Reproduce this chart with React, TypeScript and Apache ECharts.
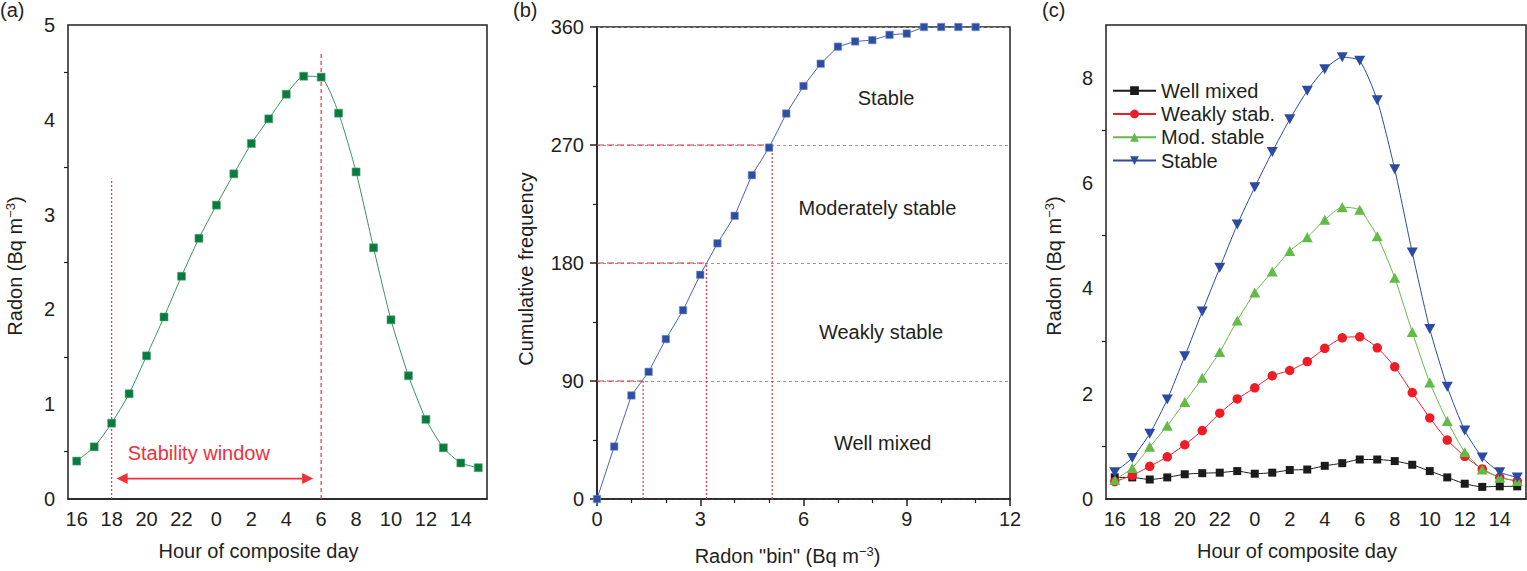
import React, { useEffect, useRef } from 'react';
import * as echarts from 'echarts';

// ---------- data ----------
const hours = ['16', '17', '18', '19', '20', '21', '22', '23', '0', '1', '2', '3', '4', '5', '6', '7', '8', '9', '10', '11', '12', '13', '14', '15'];

const compositeRadon = [0.40, 0.55, 0.80, 1.11, 1.51, 1.92, 2.35, 2.75, 3.10, 3.43, 3.75, 4.01, 4.27, 4.46, 4.45, 4.07, 3.45, 2.65, 1.89, 1.30, 0.84, 0.54, 0.38, 0.33];
const windowHours = ['18', '6'];
const windowLineTops = [3.38, 4.72];

const binValues = [0, 0.5, 1, 1.5, 2, 2.5, 3, 3.5, 4, 4.5, 5, 5.5, 6, 6.5, 7, 7.5, 8, 8.5, 9, 9.5, 10, 10.5, 11];
const cumulativeFreq = [0, 40, 79, 97, 122, 144, 171, 195, 216, 247, 268, 294, 315, 332, 345, 349, 350, 354, 355, 360, 360, 360, 360];

const thresholdFreq = [90, 180, 270];
const thresholdBin = [1.34, 3.18, 5.09];
const classNames = ['Well mixed', 'Weakly stable', 'Moderately stable', 'Stable'];

const wellMixed = [0.41, 0.41, 0.37, 0.41, 0.47, 0.49, 0.50, 0.53, 0.48, 0.50, 0.55, 0.56, 0.63, 0.68, 0.75, 0.75, 0.72, 0.65, 0.53, 0.41, 0.29, 0.23, 0.24, 0.24];
const weaklyStable = [0.33, 0.45, 0.62, 0.80, 1.03, 1.30, 1.63, 1.90, 2.11, 2.34, 2.44, 2.61, 2.86, 3.06, 3.08, 2.87, 2.51, 2.02, 1.54, 1.12, 0.81, 0.57, 0.41, 0.34];
const modStable = [0.36, 0.59, 0.99, 1.39, 1.84, 2.30, 2.79, 3.39, 3.92, 4.32, 4.71, 4.97, 5.30, 5.54, 5.49, 4.99, 4.20, 3.17, 2.21, 1.48, 0.89, 0.56, 0.41, 0.34];
const stable = [0.51, 0.78, 1.24, 1.89, 2.71, 3.56, 4.39, 5.21, 5.92, 6.59, 7.21, 7.75, 8.16, 8.39, 8.32, 7.57, 6.26, 4.68, 3.23, 2.13, 1.30, 0.79, 0.51, 0.41];

const legendNames = ['Well mixed', 'Weakly stab.', 'Mod. stable', 'Stable'];
const yTicksC = [0, 2, 4, 6, 8];
const yMinorC = [1, 3, 5, 7];

// ---------- styles ----------
const FONT = '"Liberation Sans", Arial, Helvetica, sans-serif';
const INK = '#231f20';
const RED = '#f0303a';
const FS = 20;

const supName = (main: string) => `{a|${main}}{s|−3}{a|)}`;
const richName = (pad: number[]) => ({
  color: INK,
  fontFamily: FONT,
  fontSize: FS,
  padding: pad,
  rich: {
    a: { fontSize: FS, fontFamily: FONT, color: INK, lineHeight: 22 },
    s: { fontSize: 13, fontFamily: FONT, color: INK, lineHeight: 13, verticalAlign: 'top' },
  },
});

const axisLineStyle = { lineStyle: { color: INK, width: 1.5 } };

function catX(gridIndex: number) {
  return {
    type: 'category',
    gridIndex,
    data: hours,
    boundaryGap: true,
    axisLine: axisLineStyle,
    axisTick: { alignWithLabel: true, interval: 0, length: 7, lineStyle: { color: INK, width: 1.5 } },
    axisLabel: { interval: 1, color: INK, fontSize: FS, fontFamily: FONT, margin: 10 },
    splitLine: { show: false },
    name: 'Hour of composite day',
    nameLocation: 'middle',
    nameGap: 42,
    nameTextStyle: { color: INK, fontSize: FS, fontFamily: FONT, padding: [0, 38, 0, 0] },
  };
}

const redDashed = { color: RED, type: [7, 3], width: 1.2 };
const redDotted = { color: RED, type: [2, 2], width: 1.2 };
const redShortDash = { color: RED, type: [4, 3], width: 1.2 };

function refLine(xi: number, yi: number, data: any[], lineStyle: any) {
  return {
    name: 'ref',
    type: 'line',
    xAxisIndex: xi,
    yAxisIndex: yi,
    data,
    symbol: 'none',
    silent: true,
    z: 3,
    lineStyle,
    itemStyle: { color: RED },
  };
}

const App: React.FC = () => {
  const ref = useRef<HTMLDivElement>(null);

  useEffect(() => {
    if (!ref.current) return;
    const chart = echarts.init(ref.current, undefined, { renderer: 'svg' });

    const refLinesA = windowHours.map((h, i) =>
      refLine(0, 0, [[h, 0], [h, windowLineTops[i]]], i === 0 ? redDotted : redShortDash)
    );
    const refLinesB: any[] = [];
    thresholdFreq.forEach((f, i) => {
      refLinesB.push(refLine(1, 1, [[0, f], [thresholdBin[i], f]], redDashed));
      refLinesB.push(refLine(1, 1, [[thresholdBin[i], 0], [thresholdBin[i], f]], redDotted));
    });

    const panelLabels = [
      { type: 'text', left: 0, top: 0, style: { text: '(a)', fontSize: FS, fontFamily: FONT, fill: INK } },
      { type: 'text', left: 513, top: 0, style: { text: '(b)', fontSize: FS, fontFamily: FONT, fill: INK } },
      { type: 'text', left: 1042, top: 0, style: { text: '(c)', fontSize: FS, fontFamily: FONT, fill: INK } },
    ];

    const option: any = {
      animation: false,
      backgroundColor: '#ffffff',
      textStyle: { fontFamily: FONT },
      grid: [
        { left: 68, top: 25, width: 419, height: 474, show: true, borderColor: INK, borderWidth: 1.5, backgroundColor: 'transparent' },
        { left: 597, top: 27, width: 413, height: 472, show: true, borderColor: INK, borderWidth: 1.5, backgroundColor: 'transparent' },
        { left: 1106, top: 25, width: 420, height: 474, show: true, borderColor: INK, borderWidth: 1.5, backgroundColor: 'transparent' },
      ],
      legend: {
        data: legendNames,
        orient: 'vertical',
        left: 1112,
        top: 79,
        itemWidth: 43,
        itemHeight: 11,
        itemGap: 0,
        padding: 0,
        selectedMode: false,
        textStyle: { color: INK, fontSize: FS, fontFamily: FONT, lineHeight: 23.3 },
      },
      xAxis: [
        catX(0),
        {
          type: 'value',
          gridIndex: 1,
          min: 0,
          max: 12,
          interval: 3,
          axisLine: axisLineStyle,
          axisTick: { length: 7, lineStyle: { color: INK, width: 1.5 } },
          minorTick: { show: true, splitNumber: 3, length: 4, lineStyle: { color: INK, width: 1.2 } },
          axisLabel: { color: INK, fontSize: FS, fontFamily: FONT, margin: 10 },
          splitLine: { show: false },
          name: supName('Radon "bin" (Bq m'),
          nameLocation: 'middle',
          nameGap: 46,
          nameTextStyle: richName([0, 32, 0, 0]),
        },
        catX(2),
      ],
      yAxis: [
        {
          type: 'value',
          gridIndex: 0,
          min: 0,
          max: 5,
          interval: 1,
          axisLine: axisLineStyle,
          axisTick: { length: 7, lineStyle: { color: INK, width: 1.5 } },
          minorTick: { show: true, splitNumber: 2, length: 4, lineStyle: { color: INK, width: 1.2 } },
          axisLabel: { color: INK, fontSize: FS, fontFamily: FONT, margin: 13 },
          splitLine: { show: false },
          name: supName('Radon (Bq m'),
          nameLocation: 'middle',
          nameGap: 42,
          nameTextStyle: richName([0, 8, 0, 0]),
        },
        {
          type: 'value',
          gridIndex: 1,
          min: 0,
          max: 360,
          interval: 90,
          axisLine: axisLineStyle,
          axisTick: { length: 7, lineStyle: { color: INK, width: 1.5 } },
          minorTick: { show: true, splitNumber: 2, length: 4, lineStyle: { color: INK, width: 1.2 } },
          axisLabel: { color: INK, fontSize: FS, fontFamily: FONT, margin: 13 },
          splitLine: { show: true, lineStyle: { color: '#9a9a9a', type: [3, 3], width: 1 } },
          name: 'Cumulative frequency',
          nameLocation: 'middle',
          nameGap: 61,
          nameTextStyle: { color: INK, fontSize: FS, fontFamily: FONT, padding: [0, 12, 0, 0] },
        },
        {
          type: 'value',
          gridIndex: 2,
          min: 0,
          max: 9,
          interval: 2,
          position: 'left',
          axisLine: axisLineStyle,
          axisTick: { length: 7, customValues: yTicksC, lineStyle: { color: INK, width: 1.5 } },
          axisLabel: { color: INK, fontSize: FS, fontFamily: FONT, margin: 13, customValues: yTicksC },
          splitLine: { show: false },
          name: supName('Radon (Bq m'),
          nameLocation: 'middle',
          nameGap: 41,
          nameTextStyle: richName([0, 8, 0, 0]),
        },
        {
          type: 'value',
          gridIndex: 2,
          min: 0,
          max: 9,
          position: 'left',
          offset: 0,
          axisLine: { show: false },
          axisTick: { show: true, length: 4, customValues: yMinorC, lineStyle: { color: INK, width: 1.2 } },
          axisLabel: { show: false },
          splitLine: { show: false },
        },
      ],
      series: [
        ...refLinesA,
        ...refLinesB,
        {
          name: 'Composite',
          type: 'line',
          xAxisIndex: 0,
          yAxisIndex: 0,
          z: 4,
          data: compositeRadon,
          smooth: 0.2,
          symbol: 'rect',
          symbolSize: 8,
          itemStyle: { color: '#0a7b3e', borderColor: '#5aa878', borderWidth: 0.6 },
          lineStyle: { color: '#3a9160', width: 1 },
        },
        {
          name: 'Cumulative',
          type: 'line',
          xAxisIndex: 1,
          yAxisIndex: 1,
          z: 4,
          data: binValues.map((b, i) => [b, cumulativeFreq[i]]),
          symbol: 'rect',
          symbolSize: 7.5,
          itemStyle: { color: '#2d4fa3', borderColor: '#7f93cc', borderWidth: 0.6 },
          lineStyle: { color: '#4a64b0', width: 1 },
          markPoint: {
            silent: true,
            symbol: 'rect',
            symbolSize: 0,
            label: { show: true, position: 'inside', formatter: '{b}', color: INK, fontSize: FS, fontFamily: FONT },
            data: [
              { name: classNames[0], coord: [8.3, 43] },
              { name: classNames[1], coord: [8.25, 127] },
              { name: classNames[2], coord: [8.15, 222] },
              { name: classNames[3], coord: [8.4, 306] },
            ],
          },
        },
        {
          name: legendNames[0],
          type: 'line',
          xAxisIndex: 2,
          yAxisIndex: 2,
          data: wellMixed,
          smooth: 0.2,
          symbol: 'rect',
          symbolSize: 8,
          itemStyle: { color: '#1b1b1b' },
          lineStyle: { color: '#1b1b1b', width: 1 },
        },
        {
          name: legendNames[1],
          type: 'line',
          xAxisIndex: 2,
          yAxisIndex: 2,
          data: weaklyStable,
          smooth: 0.2,
          symbol: 'circle',
          symbolSize: 9.5,
          itemStyle: { color: '#ee1c25' },
          lineStyle: { color: '#ee1c25', width: 1 },
        },
        {
          name: legendNames[2],
          type: 'line',
          xAxisIndex: 2,
          yAxisIndex: 2,
          data: modStable,
          smooth: 0.2,
          symbol: 'triangle',
          symbolSize: [11, 10],
          itemStyle: { color: '#62bb47' },
          lineStyle: { color: '#62bb47', width: 1 },
        },
        {
          name: legendNames[3],
          type: 'line',
          xAxisIndex: 2,
          yAxisIndex: 2,
          data: stable,
          smooth: 0.2,
          symbol: 'path://M0,0L10,0L5,9Z',
          symbolSize: [11, 10],
          itemStyle: { color: '#2b4ba3' },
          lineStyle: { color: '#2b4ba3', width: 1 },
        },
      ],
      graphic: panelLabels,
    };

    chart.setOption(option);

    // stability window annotation, positioned through the axes
    const finder = { xAxisIndex: 0, yAxisIndex: 0 };
    const arrowLevel = 0.215;
    const pStart = chart.convertToPixel(finder, [hours.indexOf('18'), arrowLevel]) as number[];
    const pEnd = chart.convertToPixel(finder, [hours.indexOf('6'), arrowLevel]) as number[];
    const pText = chart.convertToPixel(finder, [hours.indexOf('18'), 0.49]) as number[];
    if (pStart && pEnd && pText) {
      const y = pStart[1];
      const x1 = pStart[0] + 5;
      const x2 = pEnd[0] - 8;
      chart.setOption({
        graphic: [
          ...panelLabels,
          { type: 'line', shape: { x1: x1 + 6, y1: y, x2: x2 - 6, y2: y }, style: { stroke: RED, lineWidth: 1.6 }, z: 10 },
          { type: 'polygon', shape: { points: [[x1, y], [x1 + 11, y - 5.5], [x1 + 11, y + 5.5]] }, style: { fill: RED }, z: 10 },
          { type: 'polygon', shape: { points: [[x2, y], [x2 - 11, y - 5.5], [x2 - 11, y + 5.5]] }, style: { fill: RED }, z: 10 },
          {
            type: 'text',
            x: pText[0] + 16,
            y: pText[1],
            style: { text: 'Stability window', fontSize: FS, fontFamily: FONT, fill: RED, textAlign: 'left', textVerticalAlign: 'middle' },
            z: 10,
          },
        ],
      }, { replaceMerge: ['graphic'] });
    }

    return () => {
      chart.dispose();
    };
  }, []);

  return (
    <div
      ref={ref}
      style={{ position: 'absolute', left: 0, top: 0, width: '1527px', height: '571px', background: '#fff' }}
    />
  );
};

export default App;
